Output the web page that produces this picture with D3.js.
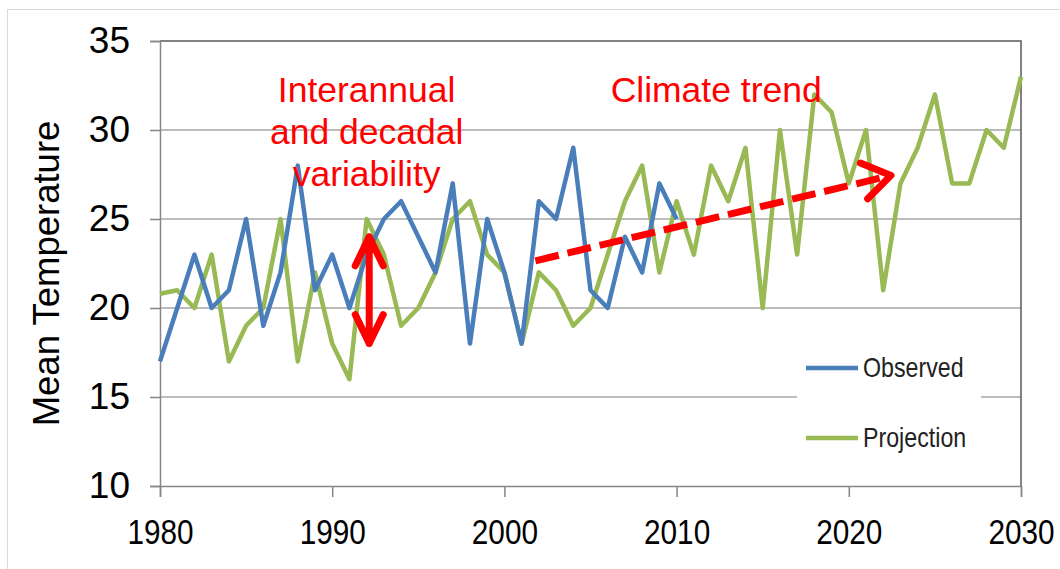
<!DOCTYPE html>
<html>
<head>
<meta charset="utf-8">
<script src="https://cdn.jsdelivr.net/npm/d3@7"></script>
<style>
  body { margin: 0; background: #fff; }
  svg { display: block; }
</style>
</head>
<body>
<svg width="1060" height="569"></svg>
<script>
const observedYears = [1980, 1981, 1982, 1983, 1984, 1985, 1986, 1987, 1988, 1989, 1990, 1991, 1992, 1993, 1994, 1995, 1996, 1997, 1998, 1999, 2000, 2001, 2002, 2003, 2004, 2005, 2006, 2007, 2008, 2009, 2010]
const observed = [17, 20, 23, 20, 21, 25, 19, 22, 28, 21, 23, 20, 23, 25, 26, 24, 22, 27, 18, 25, 22, 18, 26, 25, 29, 21, 20, 24, 22, 27, 25]

const projectionYears = d3.range(1980, 2031)
const projection = [20.8, 21, 20, 23, 17, 19, 20, 25, 17, 22, 18, 16, 25, 23, 19, 20, 22, 25, 26, 23, 22, 18, 22, 21, 19, 20, 23, 26, 28, 22, 26, 23, 28, 26, 29, 20, 30, 23, 32, 31, 27, 30, 21, 27, 29, 32, 27, 27, 30, 29, 33]

const xTicks = [1980, 1990, 2000, 2010, 2020, 2030]
const yTicks = [10, 15, 20, 25, 30, 35]
const seriesNames = ['Observed', 'Projection']
const seriesColors = ['#4a7ebb', '#98b954']

const width = 1060
const height = 569
const margin = { top: 41, right: 39, bottom: 83, left: 160 }
const narrowFont = '"Liberation Sans", Arial, sans-serif'

const svg = d3.select('svg')

// outer frame
svg.append('rect')
  .attr('x', 7.5).attr('y', 9.5)
  .attr('width', width).attr('height', height)
  .attr('fill', 'none')
  .attr('stroke', '#d9d9d9')

const xScale = d3.scaleLinear()
  .domain([1980, 2030])
  .range([margin.left, width - margin.right])

const yScale = d3.scaleLinear()
  .domain([10, 35])
  .range([height - margin.bottom, margin.top])

// gridlines
svg.append('g')
  .selectAll('line')
  .data(yTicks.filter(d => d > 10 && d < 35))
  .enter().append('line')
  .attr('x1', margin.left).attr('x2', width - margin.right)
  .attr('y1', d => yScale(d)).attr('y2', d => yScale(d))
  .attr('stroke', '#a6a6a6')
  .attr('stroke-width', 1.5)

// plot border top + right
svg.append('path')
  .attr('d', `M${margin.left},${yScale(35)}H${xScale(2030)}V${yScale(10)}`)
  .attr('fill', 'none')
  .attr('stroke', '#595959')
  .attr('stroke-width', 1.5)

// axes
const xAxis = d3.axisBottom(xScale)
  .tickValues(xTicks)
  .tickFormat(d3.format('d'))
  .tickSize(11)
  .tickPadding(22)

const yAxis = d3.axisLeft(yScale)
  .tickValues(yTicks)
  .tickSize(10)
  .tickPadding(20)

const gx = svg.append('g')
  .attr('transform', `translate(0,${yScale(10)})`)
  .call(xAxis)

// condensed look of the original labels
gx.selectAll('text')
  .attr('fill', '#000')
  .attr('font-family', narrowFont)
  .attr('font-size', 35)
  .attr('transform', 'scale(0.85,1)')

const gy = svg.append('g')
  .attr('transform', `translate(${margin.left},0)`)
  .call(yAxis)

gy.selectAll('text')
  .attr('fill', '#000')
  .attr('font-family', '"Liberation Sans", Arial, sans-serif')
  .attr('font-size', 37)

svg.selectAll('.domain, .tick line')
  .attr('stroke', '#868686')
  .attr('stroke-width', 1.5)

// y title
svg.append('text')
  .attr('transform', `translate(59,${(yScale(10) + yScale(35)) / 2 + 10}) rotate(-90)`)
  .attr('text-anchor', 'middle')
  .attr('font-family', '"Liberation Sans", Arial, sans-serif')
  .attr('font-size', 36.5)
  .text('Mean Temperature')

// series lines
const line = d3.line()
  .x(d => xScale(d[0]))
  .y(d => yScale(d[1]))

const seriesData = [
  d3.zip(observedYears, observed),
  d3.zip(projectionYears, projection)
]

svg.append('g')
  .selectAll('path')
  .data([seriesData[1], seriesData[0]])
  .enter().append('path')
  .attr('d', line)
  .attr('fill', 'none')
  .attr('stroke', (d, i) => i === 0 ? seriesColors[1] : seriesColors[0])
  .attr('stroke-width', 4.5)
  .attr('stroke-linejoin', 'round')

// legend box covers the gridline
const legend = svg.append('g')
legend.append('rect')
  .attr('x', 797).attr('y', 340)
  .attr('width', 184).attr('height', 125)
  .attr('fill', '#fff')

seriesNames.forEach((name, i) => {
  const y = 368 + i * 70
  legend.append('line')
    .attr('x1', 806).attr('x2', 858)
    .attr('y1', y).attr('y2', y)
    .attr('stroke', seriesColors[i])
    .attr('stroke-width', 4.5)
  legend.append('text')
    .attr('transform', `translate(863,${y + 9}) scale(0.86,1)`)
    .attr('font-family', narrowFont)
    .attr('font-size', 27)
    .attr('fill', '#222')
    .text(name)
})

// annotations (in data units)
const red = '#ff0000'
const note = svg.append('g')
  .attr('fill', red)
  .attr('font-family', '"Liberation Sans", Arial, sans-serif')
  .attr('font-size', 35.5)

const variabilityLines = ['Interannual', 'and decadal', 'variability']
variabilityLines.forEach((t, i) => {
  note.append('text')
    .attr('x', xScale(1992.0))
    .attr('y', yScale(31.55) + i * 42)
    .attr('text-anchor', 'middle')
    .text(t)
})

note.append('text')
  .attr('x', xScale(2012.3))
  .attr('y', yScale(31.55))
  .attr('text-anchor', 'middle')
  .text('Climate trend')

// double arrow
const da = { x: 1992.15, y0: 18, y1: 24 }
const ax = xScale(da.x)
const arrTop = yScale(da.y1)
const arrBot = yScale(da.y0)
svg.append('path')
  .attr('d', `M${ax},${arrTop}V${arrBot}M${ax - 14},${arrTop + 29}L${ax},${arrTop}L${ax + 14},${arrTop + 29}M${ax - 14},${arrBot - 29}L${ax},${arrBot}L${ax + 14},${arrBot - 29}`)
  .attr('fill', 'none')
  .attr('stroke', red)
  .attr('stroke-width', 7)
  .attr('stroke-linecap', 'round')
  .attr('stroke-linejoin', 'round')

// dashed trend arrow
const trend = [[2001.8, 22.65], [2022.45, 27.45]]
const p0 = [xScale(trend[0][0]), yScale(trend[0][1])]
const p1 = [xScale(trend[1][0]), yScale(trend[1][1])]
svg.append('line')
  .attr('x1', p0[0]).attr('y1', p0[1])
  .attr('x2', p1[0] - 6).attr('y2', p1[1] + 1.5)
  .attr('stroke', red)
  .attr('stroke-width', 7)
  .attr('stroke-dasharray', '24 9')

const ang = Math.atan2(p1[1] - p0[1], p1[0] - p0[0])
const head = [ang + Math.PI - 0.55, ang + Math.PI + 0.62].map(a => [p1[0] + 33 * Math.cos(a), p1[1] + 33 * Math.sin(a)])
svg.append('path')
  .attr('d', `M${head[0]}L${p1}L${head[1]}`)
  .attr('fill', 'none')
  .attr('stroke', red)
  .attr('stroke-width', 7)
  .attr('stroke-linecap', 'round')
  .attr('stroke-linejoin', 'round')
</script>
</body>
</html>
